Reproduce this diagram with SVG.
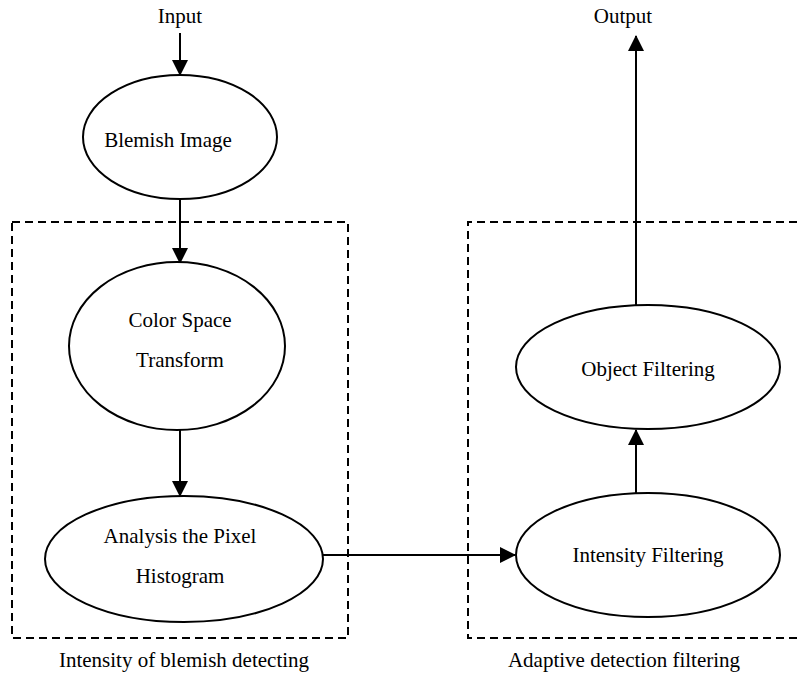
<svg xmlns="http://www.w3.org/2000/svg" width="797" height="675" viewBox="0 0 797 675" font-family="'Liberation Serif', 'DejaVu Serif', serif">
  <style>
    .node ellipse { fill: #ffffff; stroke: #000000; stroke-width: 2; }
    text { font-size: 21px; fill: #000000; text-anchor: middle; }
    .edge { stroke: #000000; stroke-width: 2; fill: none; marker-end: url(#arrow); }
    .group-box { fill: none; stroke: #000000; stroke-width: 2; stroke-dasharray: 8 5; }
  </style>
  <defs>
    <marker id="arrow" markerWidth="16" markerHeight="16" viewBox="0 0 16 16" refX="15" refY="8" markerUnits="userSpaceOnUse" orient="auto">
      <path d="M0,0 L16,8 L0,16 Z" fill="#000000"/>
    </marker>
  </defs>

  <!-- grouping frames -->
  <g id="groups">
    <rect class="group-box" x="12" y="222" width="336" height="416"/>
    <text x="184" y="667">Intensity of blemish detecting</text>
    <path class="group-box" d="M797,222 H468 V638 H797"/>
    <text x="624" y="667">Adaptive detection filtering</text>
  </g>

  <!-- connectors -->
  <g id="connectors">
    <line class="edge" x1="180" y1="33" x2="180" y2="75"/>
    <line class="edge" x1="180" y1="199" x2="180" y2="263"/>
    <line class="edge" x1="180" y1="430" x2="180" y2="496"/>
    <line class="edge" x1="323" y1="555" x2="515" y2="555"/>
    <line class="edge" x1="636" y1="493" x2="636" y2="430"/>
    <line class="edge" x1="636" y1="305" x2="636" y2="36"/>
  </g>

  <!-- terminal labels -->
  <g id="io-labels">
    <text x="180" y="23">Input</text>
    <text x="623" y="23">Output</text>
  </g>

  <g id="blemish-image" class="node">
    <ellipse cx="180" cy="137" rx="97" ry="62"/>
    <text x="168" y="147">Blemish Image</text>
  </g>

  <g id="color-space-transform" class="node">
    <ellipse cx="177" cy="346" rx="108" ry="84"/>
    <text x="180" y="327">Color Space</text>
    <text x="180" y="367">Transform</text>
  </g>

  <g id="analysis-histogram" class="node">
    <ellipse cx="184" cy="559" rx="139" ry="63"/>
    <text x="180" y="543">Analysis the Pixel</text>
    <text x="180" y="583">Histogram</text>
  </g>

  <g id="intensity-filtering" class="node">
    <ellipse cx="648" cy="555" rx="132" ry="62"/>
    <text x="648" y="562">Intensity Filtering</text>
  </g>

  <g id="object-filtering" class="node">
    <ellipse cx="648" cy="367" rx="132" ry="62"/>
    <text x="648" y="376">Object Filtering</text>
  </g>
</svg>
